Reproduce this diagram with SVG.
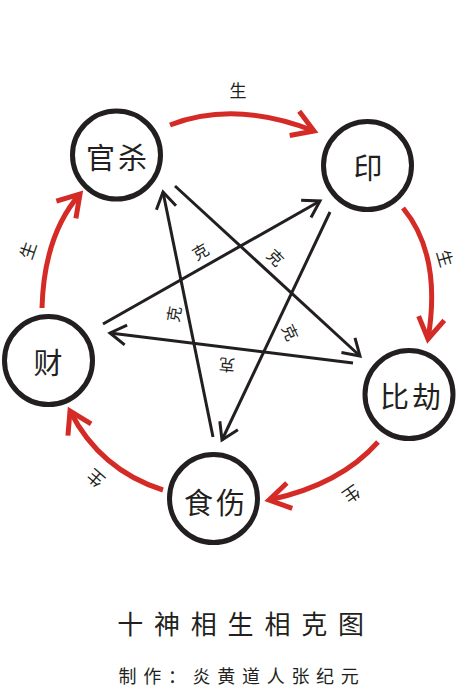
<svg xmlns="http://www.w3.org/2000/svg" width="460" height="690" viewBox="0 0 460 690">
<defs>
<style>
.node circle{fill:#fff;stroke:#231f20;stroke-width:5}
.node text{font-family:"Noto Sans CJK SC","Noto Sans",sans-serif;font-size:29px;fill:#231f20;text-anchor:middle;dominant-baseline:central}
.sheng{fill:none;stroke:#d52b27;stroke-width:5;marker-end:url(#ra)}
.ke{fill:none;stroke:#231f20;stroke-width:3;marker-end:url(#ba)}
.lbl{font-family:"Noto Sans CJK SC","Noto Sans",sans-serif;fill:#231f20;text-anchor:middle;dominant-baseline:central}
.s{font-size:17px}
.k{font-size:16px}
.title{font-family:"Noto Sans CJK SC","Noto Sans",sans-serif;fill:#231f20;text-anchor:middle}
</style>
<marker id="ra" markerUnits="userSpaceOnUse" orient="auto" overflow="visible" refX="0" refY="0" markerWidth="1" markerHeight="1">
<path d="M-21,-13 L0,0 L-21,13" fill="none" stroke="#d52b27" stroke-width="5"/>
</marker>
<marker id="ba" markerUnits="userSpaceOnUse" orient="auto" overflow="visible" refX="0" refY="0" markerWidth="1" markerHeight="1">
<path d="M-16,-10 L0,0 L-16,10" fill="none" stroke="#231f20" stroke-width="3"/>
</marker>
</defs>
<rect width="460" height="690" fill="#fff"/>
<g id="connectors">
<path class="sheng" d="M170,125 Q235,100 314,131"/>
<path class="sheng" d="M403,208 Q442,255 428,339"/>
<path class="sheng" d="M378,442 Q340,485 269,500"/>
<path class="sheng" d="M163,490 Q100,470 70,411"/>
<path class="sheng" d="M42,308 Q44,235 80,194"/>
<path class="ke" d="M175,186 L360,356"/>
<path class="ke" d="M213,437 L163,192"/>
<path class="ke" d="M103,324 L320,201"/>
<path class="ke" d="M330,212 L222,440"/>
<path class="ke" d="M353,363 L110,333"/>
<text class="lbl s" x="238" y="89">生</text>
<text class="lbl s" transform="translate(446,258) rotate(74)">生</text>
<text class="lbl s" transform="translate(352,495) rotate(145)">生</text>
<text class="lbl s" transform="translate(95,479) rotate(-139)">生</text>
<text class="lbl s" transform="translate(27,250) rotate(-71)">生</text>
<text class="lbl k" transform="translate(200,251) rotate(-30)">克</text>
<text class="lbl k" transform="translate(276,257) rotate(45)">克</text>
<text class="lbl k" transform="translate(173,314) rotate(-80)">克</text>
<text class="lbl k" transform="translate(291,332) rotate(65)">克</text>
<text class="lbl k" transform="translate(227,366) rotate(185)">克</text>
</g>
<g id="guansha" class="node"><circle cx="116.5" cy="155" r="44"/><text x="118" y="156" letter-spacing="3">官杀</text></g>
<g id="yin" class="node"><circle cx="367.5" cy="165.5" r="44"/><text x="368" y="166">印</text></g>
<g id="bijie" class="node"><circle cx="409" cy="394.5" r="44"/><text x="412" y="395" letter-spacing="3">比劫</text></g>
<g id="shishang" class="node"><circle cx="213.5" cy="498.5" r="44"/><text x="216" y="501" letter-spacing="3">食伤</text></g>
<g id="cai" class="node"><circle cx="48.5" cy="360.5" r="44"/><text x="48" y="361">财</text></g>
<g id="title">
<text class="title" x="246" y="634" font-size="26" letter-spacing="10.8">十神相生相克图</text>
<text class="title" x="242" y="683" font-size="18" letter-spacing="6.7">制作：炎黄道人张纪元</text>
</g>
</svg>
